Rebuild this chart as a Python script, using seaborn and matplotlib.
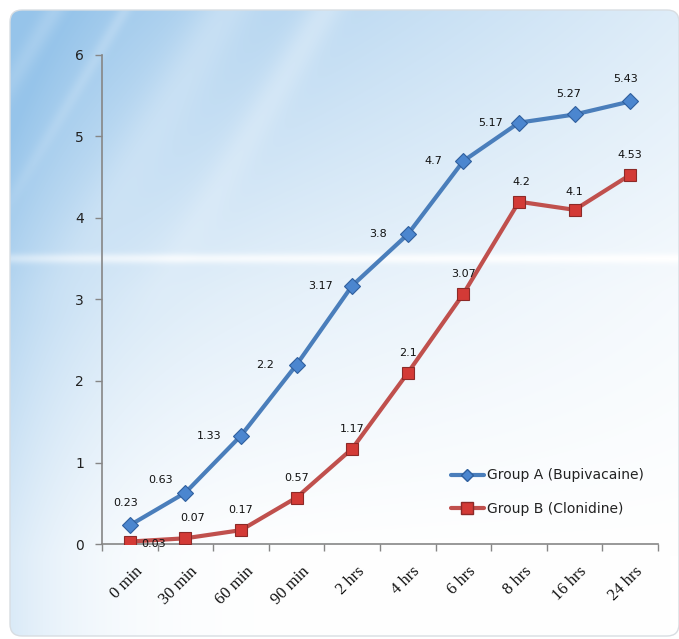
import numpy as np
import pandas as pd
import matplotlib
matplotlib.use("Agg")
import matplotlib.pyplot as plt
import matplotlib.transforms as mtransforms
from matplotlib.patches import FancyBboxPatch
from matplotlib.lines import Line2D
import seaborn as sns

# ---- data ----
categories = ["0 min", "30 min", "60 min", "90 min", "2 hrs", "4 hrs", "6 hrs", "8 hrs", "16 hrs", "24 hrs"]
group_a = [0.23, 0.63, 1.33, 2.2, 3.17, 3.8, 4.7, 5.17, 5.27, 5.43]
group_b = [0.03, 0.07, 0.17, 0.57, 1.17, 2.1, 3.07, 4.2, 4.1, 4.53]
label_a = "Group A (Bupivacaine)"
label_b = "Group B (Clonidine)"
y_ticks = [0, 1, 2, 3, 4, 5, 6]

sns.set_theme(style="white")
plt.rcParams['font.family'] = ['DejaVu Sans']

W, H = 679, 639
fig = plt.figure(figsize=(W / 100, H / 100), dpi=100)
fig.patch.set_facecolor("white")

# ---- background panel with gradient ----
bg = fig.add_axes([0, 0, 1, 1], zorder=-10)
bg.set_xlim(0, W)
bg.set_ylim(H, 0)
bg.axis("off")
yy, xx = np.mgrid[0:H, 0:W]
xf = xx / W
yf = yy / H
w = 0.8 * np.clip(1 - yf * 1.15, 0, 1) ** 1.1 * (1 - 0.75 * xf) + 0.4 * (1 - xf) ** 8
w = w + 0.12 * np.clip(1 - yf * 2.2, 0, 1)
w = np.clip(w, 0, 1)
# light horizontal band
w = w - 0.3 * np.exp(-((yy - 258) / 5.0) ** 2) * (1 - 0.6 * xf)
# soft diagonal streaks in upper-left
for c, s in [(60, 12), (130, 8), (230, 30), (330, 20)]:
    d = (xx + yy * 0.6 - c)
    w = w - 0.18 * np.exp(-(d / s) ** 2) * np.clip(1 - yf * 2.0, 0, 1)
w = np.clip(w, 0, 1)
blue = np.array([150, 196, 234]) / 255.0
white = np.array([1.0, 1.0, 1.0])
img = white[None, None, :] * (1 - w[..., None]) + blue[None, None, :] * w[..., None]
im = bg.imshow(img, extent=(0, W, H, 0), aspect="auto", interpolation="bilinear")
frame = FancyBboxPatch((10, 10), W - 10, H - 13, boxstyle="round,pad=0,rounding_size=12",
                       transform=bg.transData, facecolor="none", edgecolor="#d8dde2", lw=1.0)
bg.add_patch(frame)
im.set_clip_path(frame)

# ---- main axes ----
ax = fig.add_axes([102 / W, 1 - 544 / H, 556 / W, (544 - 55) / H])
ax.patch.set_alpha(0)

x_pos = np.arange(len(categories))
df = pd.DataFrame({"x": np.concatenate([x_pos, x_pos]),
                   "value": group_a + group_b,
                   "group": [label_a] * len(categories) + [label_b] * len(categories)})

col_a, edge_a = "#4a7ebb", "#2f5f9e"
col_b, edge_b = "#c0504d", "#8c2a28"

sns.lineplot(data=df[df.group == label_a], x="x", y="value", ax=ax, color=col_a, lw=3,
             marker="D", markersize=8, markerfacecolor="#4b86cf", markeredgecolor=edge_a,
             markeredgewidth=0.8, legend=False, zorder=4)
sns.lineplot(data=df[df.group == label_b], x="x", y="value", ax=ax, color=col_b, lw=3,
             marker="s", markersize=9, markerfacecolor="#d33a36", markeredgecolor=edge_b,
             markeredgewidth=0.8, legend=False, zorder=3)

ax.set_xlim(-0.5, len(categories) - 0.5)
ax.set_ylim(0, 6)
ax.set_xlabel("")
ax.set_ylabel("")

# ticks
ax.set_yticks(y_ticks)
ax.set_yticklabels([str(t) for t in y_ticks], fontsize=10, color="#222222")
ax.tick_params(axis="y", direction="out", length=5, width=1, color="#868686", pad=8, left=True)
ax.set_xticks(np.arange(-0.5, len(categories), 1.0))
ax.set_xticklabels([])
ax.tick_params(axis="x", which="major", direction="out", length=5, width=1, color="#868686", bottom=True)
ax.set_xticks(x_pos, minor=True)
ax.set_xticklabels(categories, minor=True, rotation=45, ha="right", va="center",
                   rotation_mode="anchor", fontsize=12, family="Liberation Serif", color="#111111")
ax.tick_params(axis="x", which="minor", length=0, pad=18)
for lab in ax.get_xticklabels(minor=True):
    lab.set_transform(lab.get_transform() + mtransforms.ScaledTranslation(10 / 100, 0, fig.dpi_scale_trans))

for side in ["top", "right"]:
    ax.spines[side].set_visible(False)
for side in ["left", "bottom"]:
    ax.spines[side].set_color("#868686")
    ax.spines[side].set_linewidth(1.2)

# ---- data labels (pixel offsets) ----
off_a = [(-4, 22), (-25, 13), (-32, 0), (-32, 0), (-32, 0), (-30, 0), (-30, 0), (-28, 0), (-6, 20), (-5, 22)]
off_b = [(24, -2), (7, 20), (0, 20), (0, 20), (0, 20), (0, 20), (0, 20), (2, 20), (0, 18), (0, 20)]
for i, v in enumerate(group_a):
    ax.annotate(f"{v:g}", (x_pos[i], v), xytext=off_a[i], textcoords="offset pixels",
                ha="center", va="center", fontsize=8, color="#111111", zorder=6)
for i, v in enumerate(group_b):
    ax.annotate(f"{v:g}", (x_pos[i], v), xytext=off_b[i], textcoords="offset pixels",
                ha="center", va="center", fontsize=8, color="#111111", zorder=6)

# ---- legend ----
handles = [Line2D([], [], color=col_a, lw=3, marker="D", markersize=6,
                  markerfacecolor="#4b86cf", markeredgecolor=edge_a),
           Line2D([], [], color=col_b, lw=3, marker="s", markersize=8,
                  markerfacecolor="#d33a36", markeredgecolor=edge_b)]
fig.legend(handles, [label_a, label_b], loc="upper left",
           bbox_to_anchor=(438 / W, 1 - 456 / H), frameon=False, fontsize=10,
           handlelength=2.4, handletextpad=0.2, labelspacing=1.4, labelcolor="#222222")

fig.savefig("out.png", dpi=100)
